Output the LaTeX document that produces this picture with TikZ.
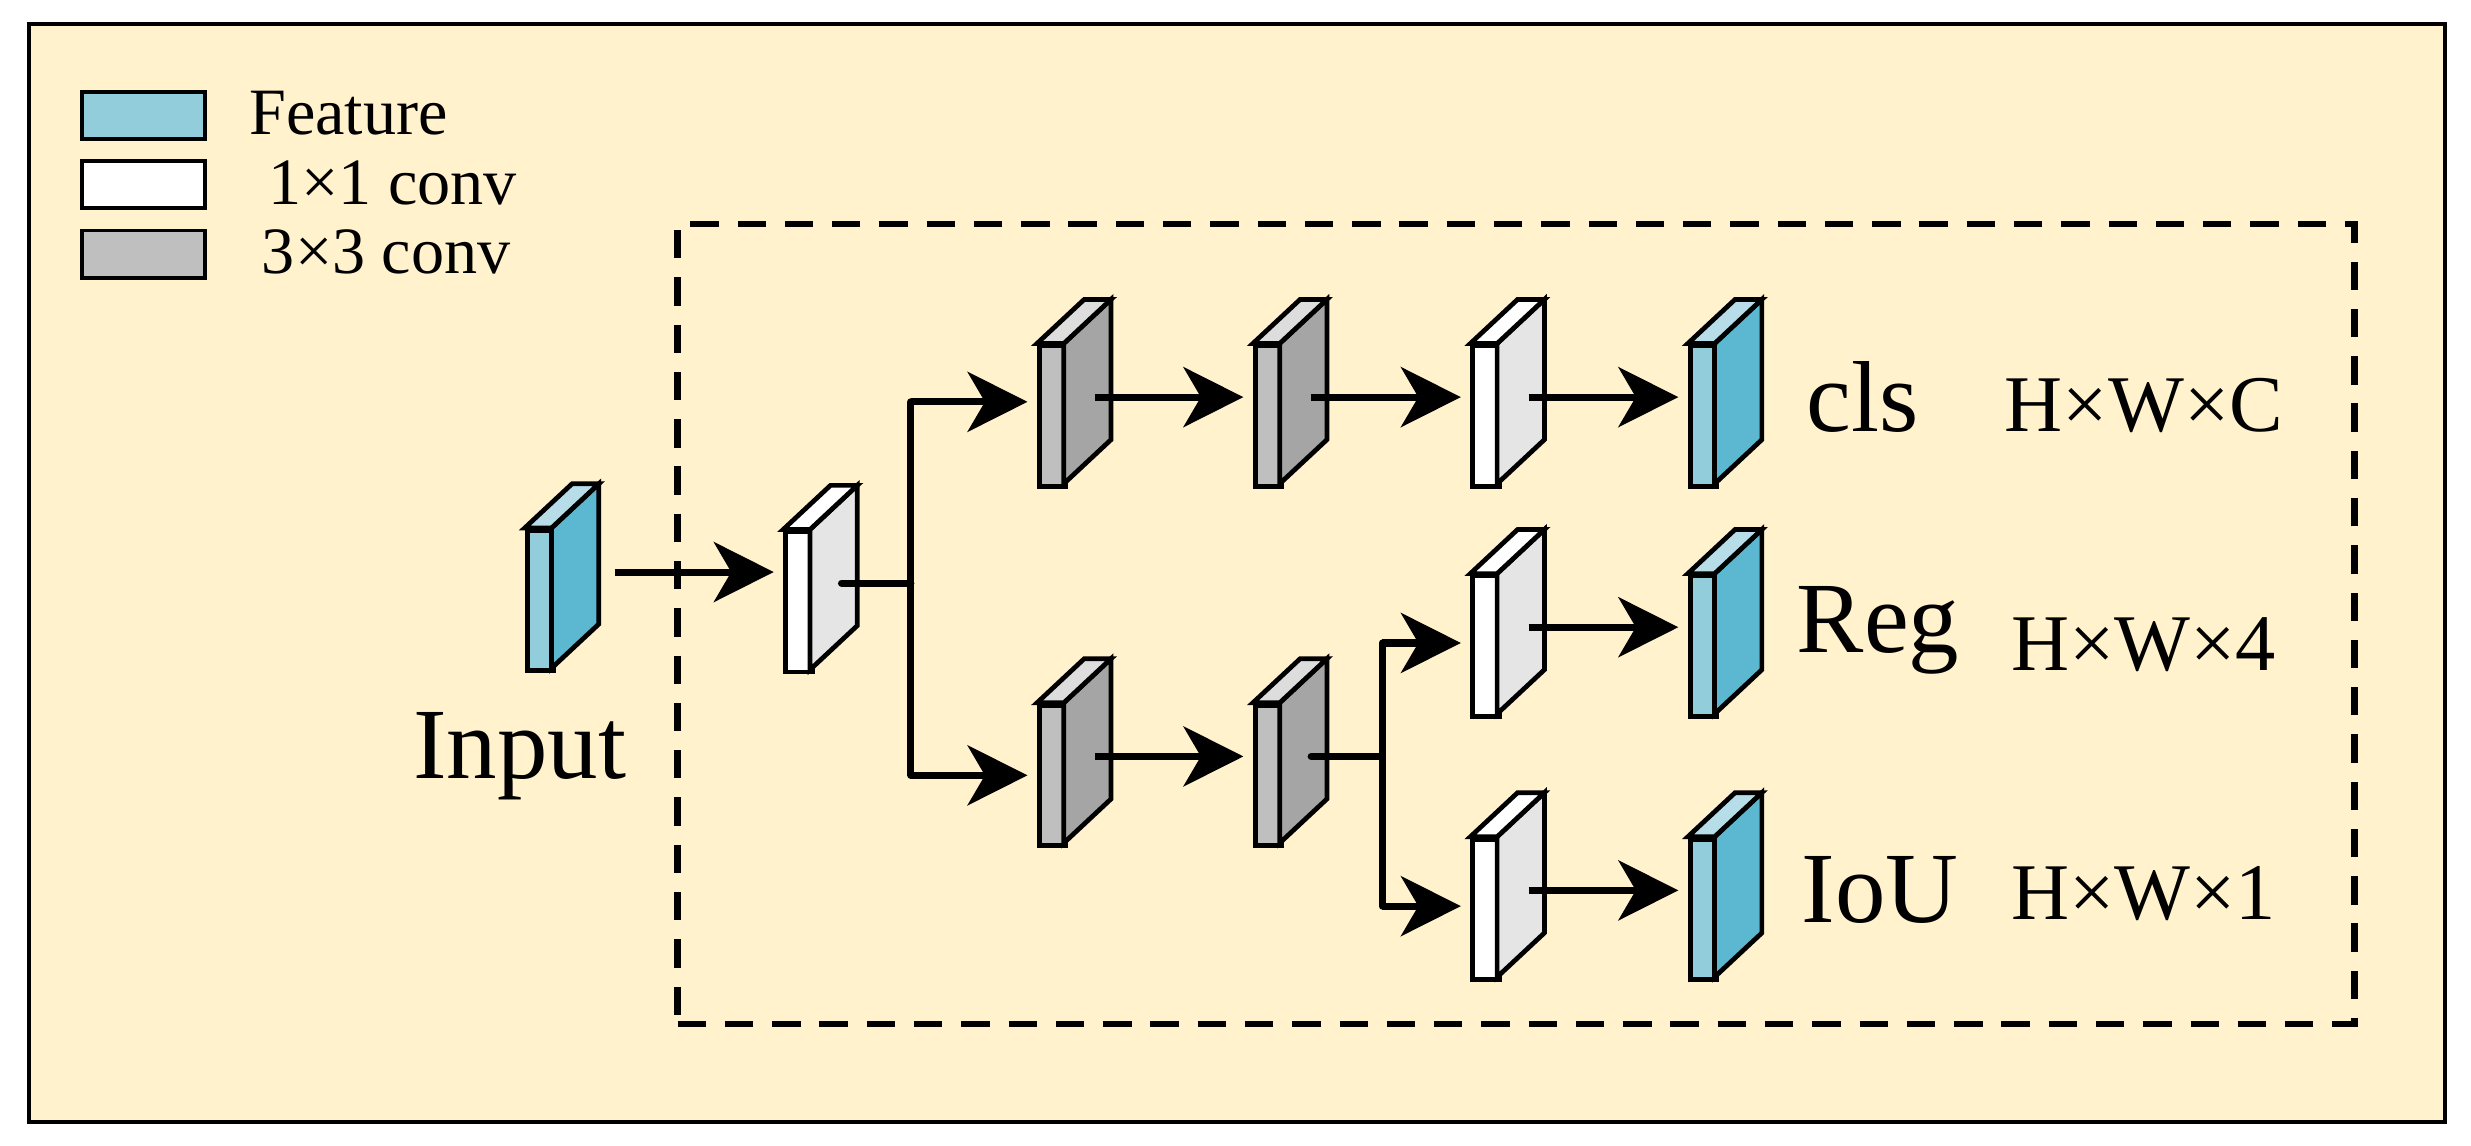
\documentclass[tikz,border=0pt]{standalone}
\usepackage{fontspec}
\setmainfont{Liberation Serif}
\usetikzlibrary{arrows.meta,calc}
\definecolor{bg}{HTML}{FFF2CC}
\definecolor{fF}{HTML}{92CDDC}\definecolor{fS}{HTML}{5BB8D0}\definecolor{fT}{HTML}{B7DEE8}
\definecolor{gF}{HTML}{BFBFBF}\definecolor{gS}{HTML}{A5A5A5}\definecolor{gT}{HTML}{DDDDDD}
\definecolor{wF}{HTML}{FFFFFF}\definecolor{wS}{HTML}{E5E5E5}\definecolor{wT}{HTML}{FFFFFF}
\newcommand\blk[4]{% name, x, y, type
  \node[draw,line width=3pt,fill=#4F,minimum width=17pt,minimum height=89pt,inner sep=0pt,anchor=north west] (#1) at (#2,#3) {};
  \filldraw[line width=3pt,line join=miter,fill=#4S] (#2+17,#3) -- ++(30,-28) -- ++(0,89) -- ++(-30,28) -- cycle;
  \filldraw[line width=3pt,line join=miter,fill=#4T] (#2,#3) -- ++(30,-28) -- ++(17,0) -- ++(-30,28) -- cycle;
  \coordinate (#1c) at (#2+37,#3+34);
}
\tikzset{arr/.style={line width=4.5pt,-{Stealth[length=38pt,width=38pt,inset=11pt]},shorten >=6pt},
  ln/.style={line width=4.5pt,line cap=round},
  lg/.style={draw,line width=2.5pt,minimum width=78pt,minimum height=30pt,inner sep=0pt,anchor=north west},
  lt/.style={anchor=west,font=\fontsize{42pt}{44pt}\selectfont,inner sep=0pt},
  big/.style={anchor=west,font=\fontsize{64pt}{66pt}\selectfont,inner sep=0pt},
  dim/.style={anchor=west,font=\fontsize{51pt}{53pt}\selectfont,inner sep=0pt}}
\begin{document}
\begin{tikzpicture}[x=1pt,y=-1pt]
\useasboundingbox (0,0) rectangle (1568,727);
\node[draw,line width=2.5pt,fill=bg,minimum width=1533pt,minimum height=697pt,anchor=north west,inner sep=0pt] (frame) at (17,14) {};
\node[draw,line width=4pt,dash pattern=on 18pt off 12pt,minimum width=1064pt,minimum height=508pt,anchor=north west,inner sep=0pt] (head) at (428,140) {};
% legend
\node[lg,fill=fF] (l1) at (51,57) {};
\node[lg,fill=white] (l2) at (51,101) {};
\node[lg,fill=gF] (l3) at (51,145) {};
\node[lt] (t1) at (158,72) {Feature};
\node[lt] (t2) at (170,116) {1×1 conv};
\node[lt] (t3) at (166,160) {3×3 conv};
% blocks
\blk{in}{333}{335}{f}
\blk{a}{497}{336}{w}
\blk{g1}{658}{218}{g}
\blk{g2}{795}{218}{g}
\blk{w1}{933}{218}{w}
\blk{f1}{1071}{218}{f}
\blk{g3}{658}{446}{g}
\blk{g4}{795}{446}{g}
\blk{w2}{933}{364}{w}
\blk{f2}{1071}{364}{f}
\blk{w3}{933}{531}{w}
\blk{f3}{1071}{531}{f}
% connectors
\coordinate (inc) at (390,363);
\coordinate (br1) at (578,370);
\coordinate (br1t) at (578,255);
\coordinate (br1b) at (578,492);
\coordinate (br2) at (877,480);
\coordinate (br2t) at (877,408);
\coordinate (br2b) at (877,575);
\draw[arr] (inc) -- (inc -| a.west);
\draw[ln] (ac) -- (ac -| br1);
\draw[ln] (br1t) -- (br1b);
\draw[arr] (br1t) -- (br1t -| g1.west);
\draw[arr] (br1b) -- (br1b -| g3.west);
\draw[arr] (g1c) -- (g1c -| g2.west);
\draw[arr] (g2c) -- (g2c -| w1.west);
\draw[arr] (w1c) -- (w1c -| f1.west);
\draw[arr] (g3c) -- (g3c -| g4.west);
\draw[ln] (g4c) -- (g4c -| br2);
\draw[ln] (br2t) -- (br2b);
\draw[arr] (br2t) -- (br2t -| w2.west);
\draw[arr] (br2b) -- (br2b -| w3.west);
\draw[arr] (w2c) -- (w2c -| f2.west);
\draw[arr] (w3c) -- (w3c -| f3.west);
% labels
\node[big] (inl) at (262,480) {Input};
\node[big] (cls) at (1146,252) {cls};
\node[big] (reg) at (1140,400) {Reg};
\node[big] (iou) at (1143,565) {IoU};
\node[dim] (d1) at (1272,257) {H×W×C};
\node[dim] (d2) at (1276,409) {H×W×4};
\node[dim] (d3) at (1276,567) {H×W×1};
\end{tikzpicture}
\end{document}
